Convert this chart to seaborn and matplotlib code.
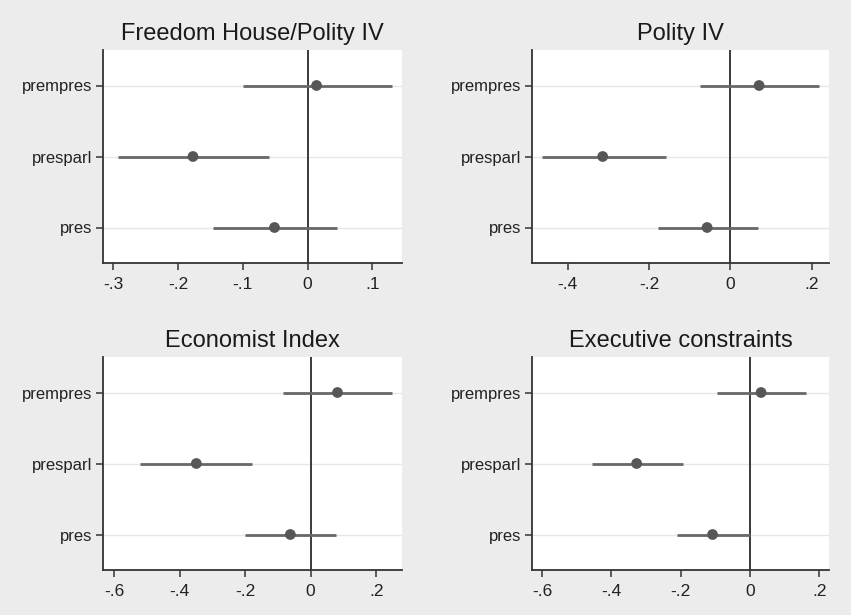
import matplotlib
matplotlib.use("Agg")
import matplotlib.pyplot as plt
import seaborn as sns
import pandas as pd

sns.set_theme(style="white")
plt.rcParams['font.family'] = ['Liberation Sans', 'DejaVu Sans']

categories = ["prempres", "presparl", "pres"]
panel_titles = ["Freedom House/Polity IV", "Polity IV", "Economist Index", "Executive constraints"]

# point estimates per panel (order: prempres, presparl, pres)
fh_est = [0.014, -0.177, -0.051]
fh_lo = [-0.100, -0.293, -0.146]
fh_hi = [0.130, -0.059, 0.046]

pol_est = [0.071, -0.314, -0.057]
pol_lo = [-0.075, -0.464, -0.177]
pol_hi = [0.218, -0.158, 0.069]

eco_est = [0.082, -0.349, -0.062]
eco_lo = [-0.084, -0.522, -0.200]
eco_hi = [0.249, -0.179, 0.078]

exc_est = [0.032, -0.327, -0.108]
exc_lo = [-0.096, -0.456, -0.211]
exc_hi = [0.161, -0.192, 0.000]

xticks_fh = [-0.3, -0.2, -0.1, 0, 0.1]
xlabels_fh = ["-.3", "-.2", "-.1", "0", ".1"]
xticks_pol = [-0.4, -0.2, 0, 0.2]
xlabels_pol = ["-.4", "-.2", "0", ".2"]
xticks_eco = [-0.6, -0.4, -0.2, 0, 0.2]
xlabels_eco = ["-.6", "-.4", "-.2", "0", ".2"]

xlims = [(-0.316, 0.146), (-0.488, 0.243), (-0.634, 0.279), (-0.629, 0.228)]

panels = [
    (fh_est, fh_lo, fh_hi, xticks_fh, xlabels_fh),
    (pol_est, pol_lo, pol_hi, xticks_pol, xlabels_pol),
    (eco_est, eco_lo, eco_hi, xticks_eco, xlabels_eco),
    (exc_est, exc_lo, exc_hi, xticks_eco, xlabels_eco),
]

W, H = 851, 615
fig = plt.figure(figsize=(W / 100, H / 100), dpi=100)
fig.patch.set_facecolor("#ececec")

boxes = [(103, 50, 402, 263), (532, 50, 829, 263), (103, 357, 402, 570), (532, 357, 829, 570)]

for i, ((est, lo, hi, xt, xl), (x0, y0, x1, y1)) in enumerate(zip(panels, boxes)):
    ax = fig.add_axes([x0 / W, 1 - y1 / H, (x1 - x0) / W, (y1 - y0) / H])
    ax.set_facecolor("white")
    df = pd.DataFrame({"cat": categories, "est": est, "lo": lo, "hi": hi})
    for c in categories:
        ax.axhline(c, color="#e6e6e6", lw=1.0, zorder=0)
    ax.axvline(0, color="#3a3a3a", lw=1.4, zorder=1)
    ax.hlines(df["cat"], df["lo"], df["hi"], color="#686868", lw=2.0, zorder=2)
    sns.scatterplot(data=df, x="est", y="cat", ax=ax, color="#575757", s=60,
                    edgecolor="none", zorder=3, legend=False)
    ax.set_ylim(2.5, -0.5)
    ax.set_xlim(*xlims[i])
    ax.set_xticks(xt)
    ax.set_xticklabels(xl)
    ax.set_xlabel("")
    ax.set_ylabel("")
    for s in ["top", "right"]:
        ax.spines[s].set_visible(False)
    for s in ["left", "bottom"]:
        ax.spines[s].set_color("#333333")
        ax.spines[s].set_linewidth(1.3)
    ax.tick_params(axis="both", which="both", direction="out", length=5, width=1.1,
                   color="#333333", labelsize=12, labelcolor="#222222", pad=3,
                   left=True, bottom=True)
    ax.tick_params(axis="x", labelsize=12.5, pad=5)
    ax.set_title(panel_titles[i], fontsize=17, color="#1a1a1a", pad=7)

fig.savefig("out.png", dpi=100, facecolor=fig.get_facecolor())
